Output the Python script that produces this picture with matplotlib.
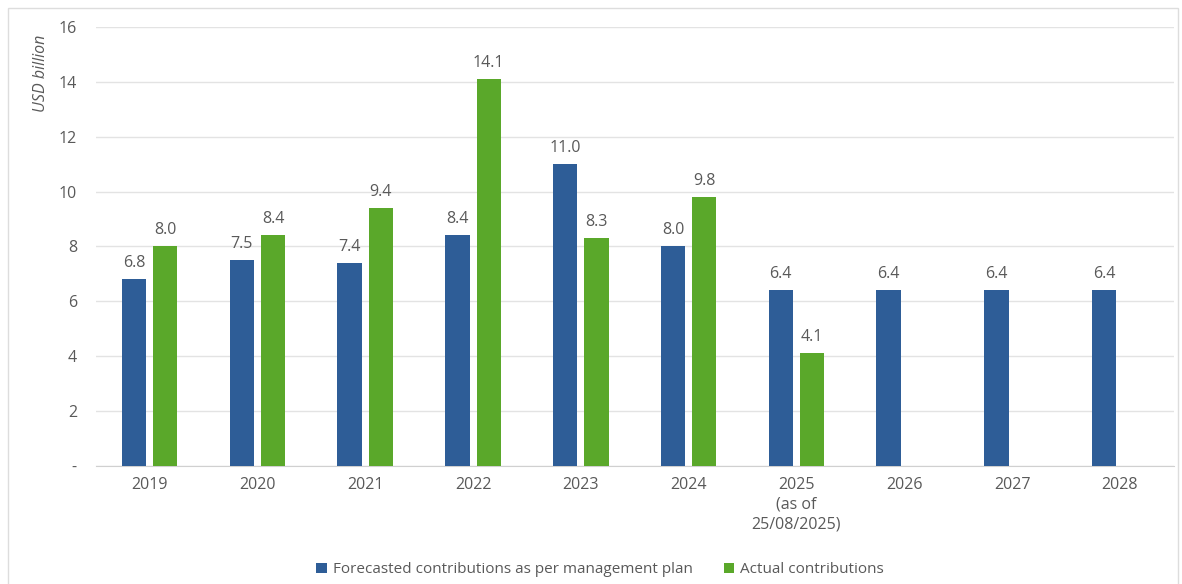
import numpy as np
import matplotlib.pyplot as plt
from matplotlib.patches import Rectangle

plt.rcParams["font.family"] = ["Open Sans", "DejaVu Sans"]

# Data
years = ["2019", "2020", "2021", "2022", "2023", "2024",
         "2025\n(as of\n25/08/2025)", "2026", "2027", "2028"]
forecast = [6.8, 7.5, 7.4, 8.4, 11.0, 8.0, 6.4, 6.4, 6.4, 6.4]
actual = [8.0, 8.4, 9.4, 14.1, 8.3, 9.8, 4.1]

blue = "#2E5D97"
green = "#5AA82A"
grey = "#595959"
fs = 11.5

fig = plt.figure(figsize=[11.82, 5.84], dpi=100)
ax = fig.add_axes([0.081, 0.202, 0.912, 0.752])

x = np.arange(len(years))
w = 0.225
off = 0.145

b1 = ax.bar(x - off, forecast, w, color=blue, label="Forecasted contributions as per management plan", zorder=3)
b2 = ax.bar(x[:len(actual)] + off, actual, w, color=green, label="Actual contributions", zorder=3)

for rects, vals in [(b1, forecast), (b2, actual)]:
    for r, v in zip(rects, vals):
        ax.text(r.get_x() + r.get_width() / 2, v + 0.3, f"{v:.1f}",
                ha="center", va="bottom", fontsize=fs, color=grey)

ax.set_xlim(-0.5, len(years) - 0.5)
ax.set_ylim(0, 16)
ax.set_yticks(range(0, 17, 2))
ax.set_yticklabels(["-"] + [str(v) for v in range(2, 17, 2)])
ax.set_xticks(x)
ax.set_xticklabels(years, fontsize=fs, color=grey, linespacing=1.3, va="top")
ax.tick_params(axis="y", labelsize=fs, labelcolor=grey, length=0, pad=13.5)
ax.tick_params(axis="x", length=0, pad=8)

ax.grid(axis="y", color="#E3E3E3", linewidth=1, zorder=0)
for s in ["top", "right", "left"]:
    ax.spines[s].set_visible(False)
ax.spines["bottom"].set_color("#D0D0D0")

ax.set_ylabel("USD billion", fontsize=fs, color=grey, style="italic")
ax.yaxis.set_label_coords(-0.043, 0.895)

ax.legend(loc="lower center", bbox_to_anchor=(0.468, -0.285), ncol=2, frameon=False,
          fontsize=11, labelcolor=grey, handlelength=0.7, handleheight=0.7,
          handletextpad=0.4, columnspacing=2.0)

# Outer frame
fig.patches.append(Rectangle((0.007, -0.01), 0.99, 0.996, transform=fig.transFigure,
                             fill=False, edgecolor="#DDDDDD", linewidth=1))

fig.savefig("out.png", dpi=100)
